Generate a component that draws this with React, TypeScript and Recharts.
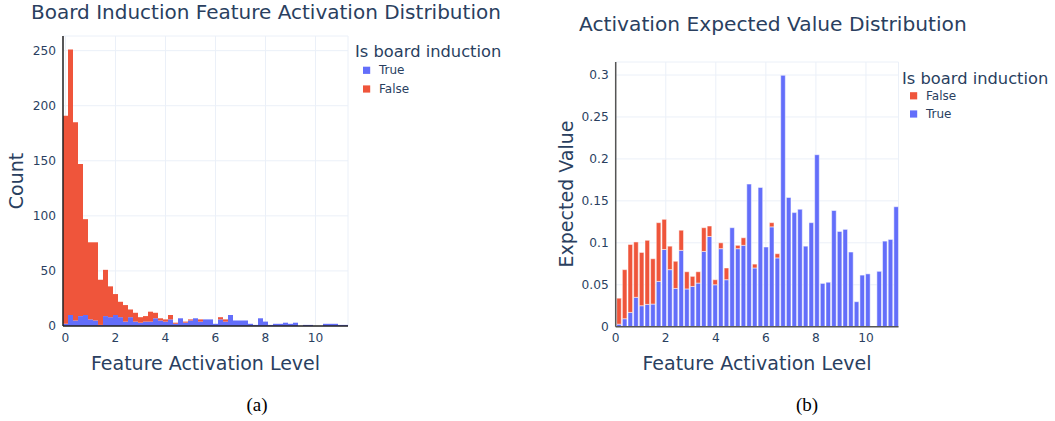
import React from 'react';
import { BarChart, Bar, XAxis, YAxis, CartesianGrid } from 'recharts';

const FONT = '"DejaVu Sans", sans-serif';
const INK = '#2a3f5f';
const BLUE = '#636efa';
const RED = '#ef553b';
const GRID = '#ebf0f8';

// (a) histogram, bins of 0.2 centred on 0, 0.2, 0.4 ...
const HIST_BIN = 0.2;
const HIST_TRUE = [
  2, 10, 5, 9, 10, 6, 5, 1, 9, 8,
  10, 8, 4, 8, 4, 3, 4, 4, 7, 5,
  4, 6, 2, 7, 3, 5, 7, 4, 6, 6,
  2, 6, 4, 10, 5, 5, 5, 2, 1, 7,
  4, 1, 2, 2, 3, 2, 3, 0, 1, 1,
  0, 0, 2, 2, 2, 1, 1,
];
const HIST_FALSE = [
  189, 241, 180, 138, 87, 70, 71, 41, 42, 28,
  19, 14, 15, 7, 8, 5, 5, 9, 5, 2,
  2, 4, 1, 0, 1, 1, 0, 2, 0, 0,
  0, 2, 2, 0, 0, 0, 0, 0, 0, 0,
  0, 0, 0, 0, 0, 0, 0, 0, 0, 0,
  0, 0, 0, 0, 0, 0, 0,
];

// (b) expected value per bin, 50 bins over 0 .. 11.3
const EV_BIN = 0.226;
const EV_TRUE = [
  0.003, 0.0095, 0.017, 0.035, 0.025, 0.0266, 0.027, 0.054, 0.092, 0.068,
  0.0456, 0.091, 0.045, 0.048, 0.052, 0.0897, 0.1075, 0.05, 0.093, 0.056,
  0.118, 0.093, 0.097, 0.17, 0.07, 0.166, 0.095, 0.119, 0.082, 0.2996,
  0.154, 0.136, 0.14, 0.096, 0.124, 0.205, 0.0516, 0.053, 0.1385, 0.1135,
  0.116, 0.089, 0.0298, 0.0615, 0.063, 0, 0.066, 0.102, 0.104, 0.143,
];
const EV_FALSE = [
  0.031, 0.0585, 0.081, 0.066, 0.0635, 0.0764, 0.054, 0.07, 0.036, 0.028,
  0.0324, 0.024, 0.0205, 0.012, 0.0135, 0.0283, 0.0125, 0.006, 0.007, 0.014,
  0, 0.004, 0.009, 0, 0.0046, 0, 0, 0.005, 0.005, 0,
  0, 0, 0, 0, 0, 0, 0, 0, 0, 0,
  0, 0, 0, 0, 0, 0, 0, 0, 0, 0,
];

const X_TICKS = [0, 2, 4, 6, 8, 10];
const COUNT_TICKS = [0, 50, 100, 150, 200, 250];
const EV_TICKS = [0, 0.05, 0.1, 0.15, 0.2, 0.25, 0.3];

const histData = HIST_TRUE.map((t, i) => ({ bin: +(i * HIST_BIN).toFixed(2), t, f: HIST_FALSE[i] }));
const evData = EV_TRUE.map((t, i) => ({ x: (i + 0.5) * EV_BIN, t, f: EV_FALSE[i] }));

const tick = { fill: INK, fontSize: 12.2, fontFamily: FONT };

type Item = { label: string; color: string };

function LegendBlock({ x, y, first, step, items }: { x: number; y: number; first: number; step: number; items: Item[] }) {
  return (
    <g>
      <text x={x} y={y} fontSize={16.3} fill={INK} fontFamily={FONT}>Is board induction</text>
      {items.map((it, i) => {
        const cy = y + first + i * step;
        return (
          <g key={it.label}>
            <rect x={x + 8} y={cy - 3.6} width={7.2} height={7.2} fill={it.color} />
            <text x={x + 24} y={cy} fontSize={12} fill={INK} fontFamily={FONT} dominantBaseline="central">{it.label}</text>
          </g>
        );
      })}
    </g>
  );
}

export default function App() {
  return (
    <div style={{ position: 'absolute', left: 0, top: 0, width: 1055, height: 421, background: '#fff' }}>
      <div style={{ position: 'absolute', left: 0, top: 0 }}>
        <BarChart width={520} height={421} data={histData} margin={{ top: 36, right: 172, bottom: 65, left: 0 }} barGap={0} barCategoryGap={0}>
          <CartesianGrid stroke={GRID} xAxisId="num" />
          <XAxis xAxisId="cat" dataKey="bin" type="category" hide height={0} />
          <XAxis xAxisId="num" type="number" dataKey="bin" domain={[-0.1, 11.3]} ticks={X_TICKS} height={30} tickLine={false} tickSize={5}
            axisLine={{ stroke: '#222', strokeWidth: 1.5 }} tick={tick} />
          <YAxis type="number" domain={[0, 263.3]} ticks={COUNT_TICKS} width={63} tickLine={false} tickSize={5}
            axisLine={{ stroke: '#222', strokeWidth: 1.5 }} tick={tick} />
          <Bar xAxisId="cat" dataKey="t" stackId="a" fill={BLUE} isAnimationActive={false} />
          <Bar xAxisId="cat" dataKey="f" stackId="a" fill={RED} isAnimationActive={false} />
        </BarChart>
      </div>
      <div style={{ position: 'absolute', left: 540, top: 0 }}>
        <BarChart width={515} height={421} data={evData} margin={{ top: 62, right: 156.5, bottom: 64.3, left: 0 }} barGap={0}>
          <CartesianGrid stroke={GRID} />
          <XAxis type="number" dataKey="x" domain={[0, 11.3]} ticks={X_TICKS} height={30} tickLine={false} tickSize={5}
            axisLine={{ stroke: '#555', strokeWidth: 1.5 }} tick={tick} />
          <YAxis type="number" domain={[0, 0.3155]} ticks={EV_TICKS} width={75.7} tickLine={false} tickSize={5}
            axisLine={{ stroke: '#555', strokeWidth: 1.5 }} tick={tick} />
          <Bar dataKey="t" stackId="a" fill={BLUE} stroke="#fff" strokeWidth={0.5} barSize={4.6} isAnimationActive={false} />
          <Bar dataKey="f" stackId="a" fill={RED} stroke="#fff" strokeWidth={0.5} barSize={4.6} isAnimationActive={false} />
        </BarChart>
      </div>
      <svg width={1055} height={421} style={{ position: 'absolute', left: 0, top: 0, pointerEvents: 'none' }}>
        <text x={31} y={19} fontSize={20} fill={INK} fontFamily={FONT}>Board Induction Feature Activation Distribution</text>
        <text x={579} y={30.7} fontSize={20.2} fill={INK} fontFamily={FONT}>Activation Expected Value Distribution</text>
        <text x={16} y={181} fontSize={19} fill={INK} fontFamily={FONT} textAnchor="middle" dominantBaseline="central"
          transform="rotate(-90 16 181)">Count</text>
        <text x={566} y={194} fontSize={19} fill={INK} fontFamily={FONT} textAnchor="middle" dominantBaseline="central"
          transform="rotate(-90 566 194)">Expected Value</text>
        <text x={205.5} y={369.5} fontSize={19} fill={INK} fontFamily={FONT} textAnchor="middle">Feature Activation Level</text>
        <text x={757} y={369.5} fontSize={19} fill={INK} fontFamily={FONT} textAnchor="middle">Feature Activation Level</text>
        <LegendBlock x={355} y={56.7} first={13.6} step={18.7} items={[{ label: 'True', color: BLUE }, { label: 'False', color: RED }]} />
        <LegendBlock x={902} y={83.5} first={12.3} step={18.2} items={[{ label: 'False', color: RED }, { label: 'True', color: BLUE }]} />
        <text x={257} y={411} fontSize={19} fill="#000" fontFamily='"Liberation Serif", serif' textAnchor="middle">(a)</text>
        <text x={807} y={411} fontSize={19} fill="#000" fontFamily='"Liberation Serif", serif' textAnchor="middle">(b)</text>
      </svg>
    </div>
  );
}
